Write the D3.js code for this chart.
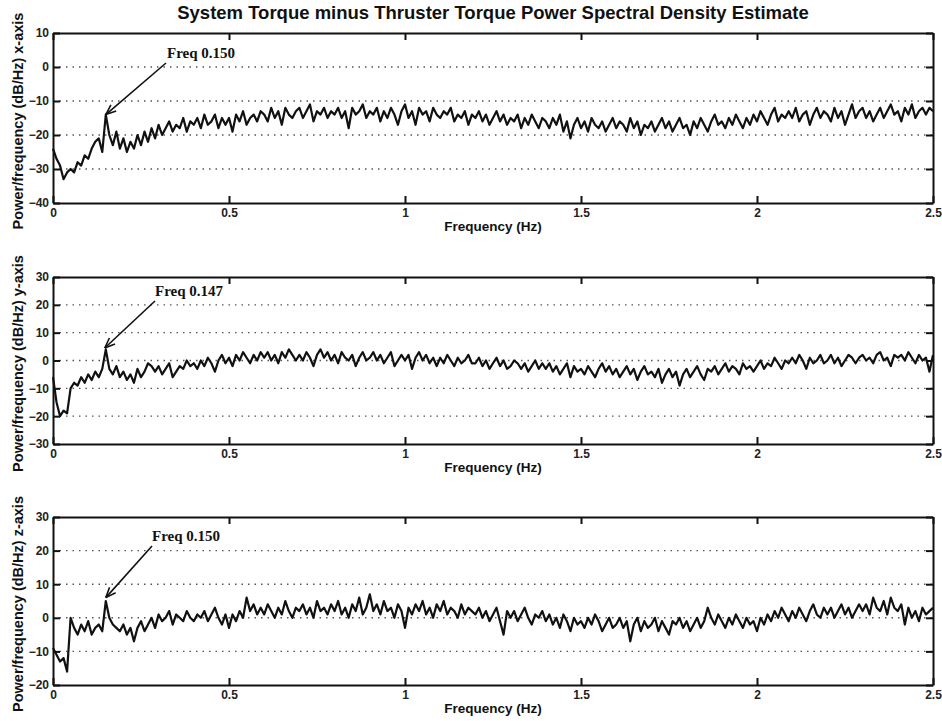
<!DOCTYPE html>
<html><head><meta charset="utf-8">
<script src="https://cdn.jsdelivr.net/npm/d3@7"></script>
<style>
html,body{margin:0;padding:0;background:#fff;}
svg{display:block;}
</style></head>
<body>
<svg id="chart" width="942" height="721"></svg>
<script>
const title = "System Torque minus Thruster Torque Power Spectral Density Estimate";
const xLabel = "Frequency (Hz)";
const yLabels = ["Power/frequency (dB/Hz) x-axis", "Power/frequency (dB/Hz) y-axis", "Power/frequency (dB/Hz) z-axis"];
const xTicks = [0, 0.5, 1, 1.5, 2, 2.5];
const xTickLabels = ["0", "0.5", "1", "1.5", "2", "2.5"];
const yTicks1 = [10, 0, -10, -20, -30, -40];
const yTicks2 = [30, 20, 10, 0, -10, -20, -30];
const yTicks3 = [30, 20, 10, 0, -10, -20];
const freqStep = 0.01; // Hz between samples, f = 0 .. 2.5

const psdX = [
-24,-27,-29,-33,-31,-30,-31,-28,-29,-26,
-27,-24,-22,-21,-25,-14,-20,-23,-19,-24,
-21,-25,-22,-24,-20,-23,-19,-22,-18,-21,
-17,-20,-18,-16,-19,-17,-18,-15,-19,-16,
-17,-15,-18,-14,-17,-16,-14,-18,-15,-17,
-15,-19,-14,-16,-13,-17,-15,-14,-16,-13,
-14,-16,-12,-15,-13,-17,-12,-14,-15,-13,
-12,-15,-13,-11,-16,-13,-14,-12,-15,-13,
-14,-12,-15,-13,-18,-12,-14,-13,-11,-15,
-13,-14,-12,-16,-13,-15,-12,-14,-17,-13,
-11,-15,-13,-17,-12,-14,-13,-16,-12,-14,
-15,-13,-14,-12,-16,-14,-15,-13,-17,-14,
-15,-13,-16,-14,-17,-15,-13,-16,-14,-17,
-15,-16,-14,-18,-15,-17,-14,-16,-18,-15,
-16,-18,-15,-17,-14,-19,-16,-21,-17,-15,
-18,-16,-19,-15,-17,-18,-16,-19,-17,-15,
-18,-16,-17,-19,-15,-18,-16,-20,-17,-18,
-16,-19,-17,-15,-18,-16,-19,-17,-15,-18,
-17,-20,-16,-18,-15,-17,-19,-16,-14,-17,
-16,-18,-15,-17,-14,-16,-18,-15,-17,-14,
-16,-13,-15,-17,-14,-12,-16,-14,-15,-13,
-15,-12,-16,-14,-13,-17,-14,-12,-15,-13,
-14,-16,-12,-15,-13,-17,-14,-11,-15,-13,
-12,-15,-13,-16,-14,-12,-15,-13,-11,-14,
-13,-16,-12,-14,-11,-15,-13,-12,-14,-12,
-13];

const psdY = [
-6,-15,-20,-18,-19,-10,-8,-9,-6,-8,
-5,-7,-4,-6,-3,4,-3,-5,-2,-6,
-4,-7,-5,-8,-3,-6,-4,-1,-2,-4,
-2,-5,-3,-1,-6,-4,-2,-3,0,-2,
-1,-3,0,-2,1,-1,-4,0,2,-1,
1,-2,2,0,3,1,-1,2,0,3,
1,3,0,2,-1,3,1,4,2,0,
2,0,3,1,-2,2,4,1,3,0,
2,-1,3,1,0,2,-2,1,3,0,
1,3,0,2,-1,1,3,-2,0,2,
0,2,-3,1,3,0,2,-1,1,-2,
1,-1,2,0,-2,1,-1,0,2,-1,
-1,1,-2,0,-3,-1,1,-2,0,-3,
-2,0,-1,-3,-1,-4,-2,0,-3,-1,
-3,-1,-4,-2,-5,-3,-1,-6,-2,-4,
-3,-5,-2,-4,-6,-3,-1,-4,-2,-5,
-3,-6,-4,-2,-5,-3,-7,-4,-2,-5,
-4,-6,-3,-8,-5,-3,-6,-4,-9,-5,
-3,-6,-4,-2,-5,-7,-3,-4,-2,-5,
-3,-1,-4,-2,-3,-5,-1,-3,-2,-4,
-2,0,-3,-1,-2,1,-1,-3,0,-1,
1,-1,2,0,-3,1,-1,0,2,-1,
0,2,-1,1,-2,0,2,1,-1,1,
2,0,1,-1,2,3,0,1,-2,2,
1,2,0,3,1,-1,2,0,1,-4,
2];

const psdZ = [
-9,-11,-13,-12,-16,0,-3,-5,-2,-4,
-1,-5,-3,-2,-4,5,0,-2,-3,-4,
-2,-5,-3,-7,-3,-1,-4,-2,0,-3,
1,-1,0,2,-2,1,0,-1,2,0,
-1,1,0,2,-1,1,3,0,-2,1,
-3,1,-1,2,0,6,2,4,1,3,
1,4,2,0,3,1,5,2,0,3,
2,4,1,3,0,5,2,3,1,4,
2,5,1,3,0,4,2,6,1,3,
7,2,4,1,5,2,3,0,4,2,
-3,3,1,4,2,5,1,3,0,4,
2,5,1,3,2,0,4,1,3,2,
1,3,0,2,-1,1,3,-1,-5,2,
0,2,-1,1,3,0,-2,1,0,2,
-1,1,-2,0,-3,1,-1,-4,0,-2,
-1,-3,0,-2,1,-1,-4,-2,0,-3,
-2,0,-3,-1,-7,-2,0,-4,-1,-3,
-2,0,-4,-1,-3,-5,-1,-2,0,-3,
-1,-4,-2,0,-3,-1,3,0,-2,1,
-1,-3,0,-2,1,-1,-3,0,-2,-1,
-4,0,-2,1,-1,2,0,3,1,-1,
2,0,3,1,-1,2,4,1,0,3,
1,3,0,2,4,1,3,0,2,4,
2,4,1,6,3,2,5,1,6,3,
2,4,-2,3,0,2,-1,3,1,2,
3];

const peakLabels = ["Freq 0.150", "Freq 0.147", "Freq 0.150"];
const peakFreqs = [0.150, 0.147, 0.150];
const peakValues = [-14, 4.5, 6];

const panels = [
  {values: psdX, ticks: yTicks1, domain: [-40, 10], top: 33, bottom: 203, ylab: yLabels[0],
   label: peakLabels[0], pf: peakFreqs[0], pv: peakValues[0], tx: 167, ty: 58, ax: 166, ay: 63},
  {values: psdY, ticks: yTicks2, domain: [-30, 30], top: 277, bottom: 444, ylab: yLabels[1],
   label: peakLabels[1], pf: peakFreqs[1], pv: peakValues[1], tx: 155, ty: 296, ax: 155, ay: 301},
  {values: psdZ, ticks: yTicks3, domain: [-20, 30], top: 517, bottom: 685, ylab: yLabels[2],
   label: peakLabels[2], pf: peakFreqs[2], pv: peakValues[2], tx: 152, ty: 541, ax: 152, ay: 546}
];

const svg = d3.select("#chart");
const left = 53, right = 933;
const x = d3.scaleLinear().domain([0, 2.5]).range([left, right]);
const font = "Liberation Sans, Arial, sans-serif";

svg.append("text").attr("x", 493).attr("y", 19).attr("text-anchor", "middle")
  .attr("font-family", font).attr("font-weight", "bold")
  .attr("font-size", 18.5).attr("fill", "#111").text(title);

panels.forEach(p => {
  const y = d3.scaleLinear().domain(p.domain).range([p.bottom, p.top]);
  const g = svg.append("g");

  // dotted horizontal grid
  g.append("g").selectAll("line").data(p.ticks.filter(t => t !== p.domain[0] && t !== p.domain[1]))
    .join("line").attr("x1", left).attr("x2", right)
    .attr("y1", d => y(d)).attr("y2", d => y(d))
    .attr("stroke", "#555").attr("stroke-width", 1.4).attr("stroke-dasharray", "1.5,5");

  // PSD line
  const line = d3.line().x((d, i) => x(i * freqStep)).y(d => y(d));
  g.append("path").datum(p.values).attr("d", line)
    .attr("fill", "none").attr("stroke", "#111").attr("stroke-width", 2.2).attr("stroke-linejoin", "round");

  // axes with inward ticks on all sides
  const axB = g.append("g").attr("transform", `translate(0,${p.bottom})`)
    .call(d3.axisBottom(x).tickValues(xTicks).tickFormat((d, i) => xTickLabels[i]).tickSizeInner(-7).tickSizeOuter(0).tickPadding(5));
  const axT = g.append("g").attr("transform", `translate(0,${p.top})`)
    .call(d3.axisTop(x).tickValues(xTicks).tickFormat("").tickSizeInner(-7).tickSizeOuter(0));
  const axL = g.append("g").attr("transform", `translate(${left},0)`)
    .call(d3.axisLeft(y).tickValues(p.ticks).tickFormat(d3.format("d")).tickSizeInner(-7).tickSizeOuter(0).tickPadding(4));
  const axR = g.append("g").attr("transform", `translate(${right},0)`)
    .call(d3.axisRight(y).tickValues(p.ticks).tickFormat("").tickSizeInner(-7).tickSizeOuter(0));
  [axB, axT, axL, axR].forEach(a => {
    a.select(".domain").attr("stroke", "#111").attr("stroke-width", 2);
    a.selectAll(".tick line").attr("stroke", "#111").attr("stroke-width", 2);
    a.selectAll("text").attr("font-family", font).attr("font-weight", "bold").attr("font-size", 12).attr("fill", "#222");
  });

  // x label
  g.append("text").attr("x", 493).attr("y", p.bottom + 28).attr("text-anchor", "middle")
    .attr("font-family", font).attr("font-weight", "bold").attr("font-size", 13.5).attr("fill", "#111").text(xLabel);
  // y label
  g.append("text").attr("transform", `translate(23,${(p.top + p.bottom) / 2 + 3}) rotate(-90)`)
    .attr("text-anchor", "middle").attr("font-family", font).attr("font-weight", "bold")
    .attr("font-size", 14.5).attr("fill", "#111").text(p.ylab);

  // annotation
  g.append("text").attr("x", p.tx).attr("y", p.ty).attr("font-family", "Liberation Serif, Times New Roman, serif")
    .attr("font-weight", "bold").attr("font-size", 15).attr("fill", "#111").text(p.label);
  const tipX = x(p.pf), tipY = y(p.pv);
  g.append("line").attr("x1", p.ax).attr("y1", p.ay).attr("x2", tipX).attr("y2", tipY)
    .attr("stroke", "#111").attr("stroke-width", 1.6);
  const ang = Math.atan2(tipY - p.ay, tipX - p.ax);
  const L = 11, spread = 0.38;
  [ang + Math.PI - spread, ang + Math.PI + spread].forEach(a => {
    g.append("line").attr("x1", tipX).attr("y1", tipY)
      .attr("x2", tipX + L * Math.cos(a)).attr("y2", tipY + L * Math.sin(a))
      .attr("stroke", "#111").attr("stroke-width", 1.6);
  });
});
</script>
</body></html>
